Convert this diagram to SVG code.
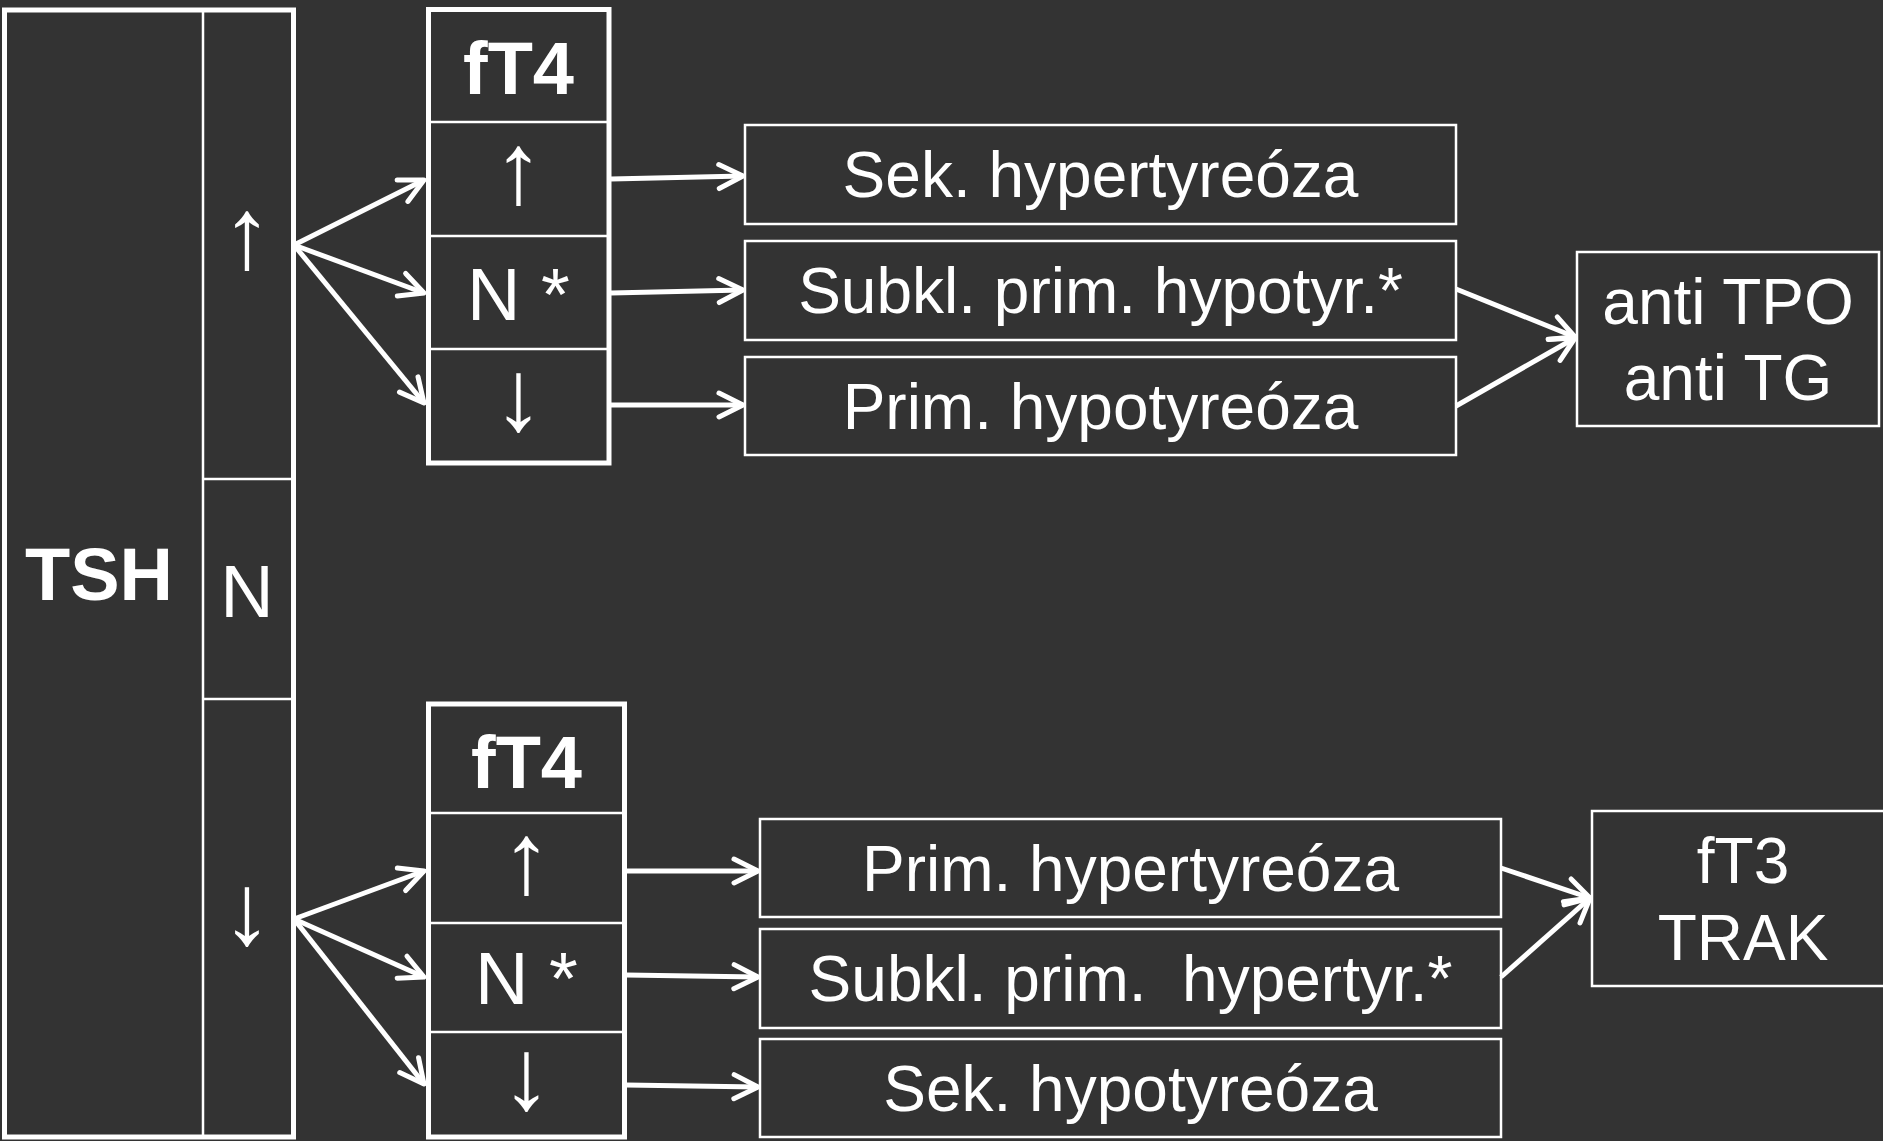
<svg xmlns="http://www.w3.org/2000/svg" width="1883" height="1141" viewBox="0 0 1883 1141">
<style>
.bg{fill:#333333}
.thick{fill:none;stroke:#ffffff;stroke-width:5}
.thin{fill:none;stroke:#ffffff;stroke-width:2.5}
.div{stroke:#ffffff;stroke-width:2.5}
.t{fill:#ffffff;font-family:"Liberation Sans",Arial,sans-serif;font-size:64px;text-anchor:middle}
.big{fill:#ffffff;font-family:"Liberation Sans",Arial,sans-serif;font-size:74px;text-anchor:middle}
.arr{fill:#ffffff;font-family:"Liberation Sans",Arial,sans-serif;font-size:101px;text-anchor:middle}
.bold{fill:#ffffff;font-family:"Liberation Sans",Arial,sans-serif;font-size:74px;font-weight:bold;text-anchor:middle}
.conn{fill:none;stroke:#ffffff;stroke-width:5;marker-end:url(#ah)}
</style>
<defs>
<marker id="ah" markerUnits="userSpaceOnUse" markerWidth="40" markerHeight="40" viewBox="-30 -20 40 40" refX="0" refY="0" orient="auto" overflow="visible">
<path d="M-24,-12 L0,0 L-24,12" fill="none" stroke="#ffffff" stroke-width="5" stroke-linecap="round" stroke-linejoin="round"/>
</marker>
</defs>
<rect class="bg" x="0" y="0" width="1883" height="1141"/>

<g id="tsh">
<rect class="thick" x="4.5" y="10" width="289" height="1127"/>
<line class="div" x1="203" y1="10" x2="203" y2="1137"/>
<line class="div" x1="203" y1="479" x2="293.5" y2="479"/>
<line class="div" x1="203" y1="699" x2="293.5" y2="699"/>
<text class="bold" x="99" y="600">TSH</text>
<text class="arr" x="247" y="268">↑</text>
<text class="big" x="247" y="617">N</text>
<text class="arr" x="247" y="944">↓</text>
</g>

<g id="ft4-top">
<rect class="thick" x="428.5" y="9.5" width="180.5" height="453.5"/>
<line class="div" x1="428.5" y1="122" x2="609" y2="122"/>
<line class="div" x1="428.5" y1="236" x2="609" y2="236"/>
<line class="div" x1="428.5" y1="349" x2="609" y2="349"/>
<text class="bold" x="518.5" y="94">fT4</text>
<text class="arr" x="518.5" y="203">↑</text>
<text class="big" x="518.5" y="320">N *</text>
<text class="arr" x="518.5" y="430">↓</text>
</g>

<g id="ft4-bottom">
<rect class="thick" x="428.5" y="704" width="196" height="433"/>
<line class="div" x1="428.5" y1="813" x2="624.5" y2="813"/>
<line class="div" x1="428.5" y1="923" x2="624.5" y2="923"/>
<line class="div" x1="428.5" y1="1032" x2="624.5" y2="1032"/>
<text class="bold" x="526.5" y="788">fT4</text>
<text class="arr" x="526.5" y="893">↑</text>
<text class="big" x="526.5" y="1004">N *</text>
<text class="arr" x="526.5" y="1109">↓</text>
</g>

<g id="sek-hyper">
<rect class="thin" x="745" y="125" width="711" height="99"/>
<text class="t" x="1100.5" y="197">Sek. hypertyreóza</text>
</g>
<g id="subkl-hypo">
<rect class="thin" x="745" y="241" width="711" height="99"/>
<text class="t" x="1100.5" y="313">Subkl. prim. hypotyr.*</text>
</g>
<g id="prim-hypo">
<rect class="thin" x="745" y="357" width="711" height="98"/>
<text class="t" x="1100.5" y="429">Prim. hypotyreóza</text>
</g>
<g id="anti">
<rect class="thin" x="1577" y="252" width="302" height="174"/>
<text class="t" x="1728" y="324">anti TPO</text>
<text class="t" x="1728" y="400">anti TG</text>
</g>

<g id="prim-hyper">
<rect class="thin" x="760" y="819" width="741" height="98"/>
<text class="t" x="1130.5" y="891">Prim. hypertyreóza</text>
</g>
<g id="subkl-hyper">
<rect class="thin" x="760" y="929" width="741" height="99"/>
<text class="t" x="1130.5" y="1001" xml:space="preserve">Subkl. prim.  hypertyr.*</text>
</g>
<g id="sek-hypo">
<rect class="thin" x="760" y="1039" width="741" height="98"/>
<text class="t" x="1130.5" y="1111">Sek. hypotyreóza</text>
</g>
<g id="ft3">
<rect class="thin" x="1592" y="811" width="295" height="175"/>
<text class="t" x="1743" y="883">fT3</text>
<text class="t" x="1743" y="960">TRAK</text>
</g>

<g id="connectors">
<line class="conn" x1="294" y1="245" x2="424" y2="180"/>
<line class="conn" x1="294" y1="245" x2="424" y2="293"/>
<line class="conn" x1="294" y1="245" x2="424" y2="403"/>
<line class="conn" x1="294" y1="919" x2="424" y2="871"/>
<line class="conn" x1="294" y1="919" x2="424" y2="977"/>
<line class="conn" x1="294" y1="919" x2="424" y2="1084"/>
<line class="conn" x1="611" y1="179" x2="743" y2="176"/>
<line class="conn" x1="611" y1="293" x2="743" y2="290"/>
<line class="conn" x1="611" y1="405" x2="743" y2="405"/>
<line class="conn" x1="626" y1="871" x2="758" y2="871"/>
<line class="conn" x1="626" y1="975" x2="758" y2="977"/>
<line class="conn" x1="626" y1="1085" x2="758" y2="1087"/>
<line class="conn" x1="1456" y1="289" x2="1575" y2="337"/>
<line class="conn" x1="1456" y1="406" x2="1575" y2="338"/>
<line class="conn" x1="1501" y1="868" x2="1590" y2="898"/>
<line class="conn" x1="1501" y1="977" x2="1590" y2="898"/>
</g>
</svg>
